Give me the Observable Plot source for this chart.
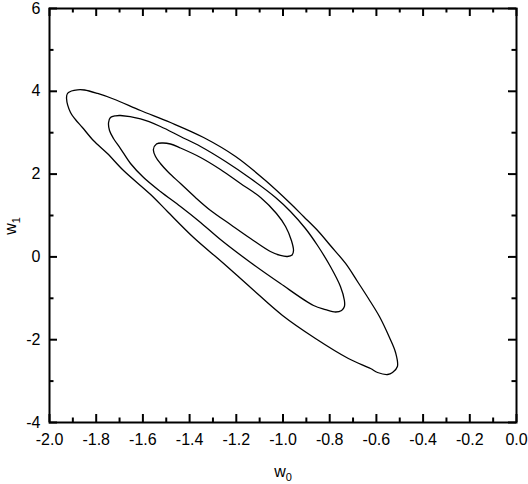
<!DOCTYPE html>
<html>
<head>
<meta charset="utf-8">
<script src="https://cdn.jsdelivr.net/npm/d3@7"></script>
<script src="https://cdn.jsdelivr.net/npm/@observablehq/plot@0.6"></script>
<style>
  html, body { margin: 0; padding: 0; background: #fff; }
</style>
</head>
<body>
<div id="chart"></div>
<script>
// Contour levels (outer, middle, inner)
const outerW0 = [-1.927,-1.923,-1.906,-1.880,-1.850,-1.794,-1.726,-1.610,-1.482,-1.340,-1.203,-1.075,-0.968,-0.912,-0.848,-0.797,-0.732,-0.681,-0.634,-0.587,-0.544,-0.518,-0.510,-0.531,-0.552,-0.595,-0.625,-0.720,-0.861,-1.002,-1.139,-1.259,-1.383,-1.495,-1.567,-1.683,-1.752,-1.812,-1.859,-1.889,-1.910];
const outerW1 = [3.826,3.947,4.007,4.036,4.031,3.947,3.814,3.536,3.246,2.884,2.425,1.845,1.290,0.976,0.614,0.275,-0.159,-0.594,-1.005,-1.440,-1.947,-2.309,-2.647,-2.792,-2.841,-2.792,-2.696,-2.454,-1.971,-1.415,-0.739,-0.135,0.469,1.097,1.507,2.087,2.498,2.812,3.126,3.319,3.488];

const middleW0 = [-1.747,-1.739,-1.717,-1.696,-1.610,-1.525,-1.439,-1.353,-1.246,-1.139,-1.032,-0.968,-0.904,-0.852,-0.797,-0.754,-0.737,-0.737,-0.749,-0.775,-0.818,-0.869,-1.011,-1.139,-1.268,-1.353,-1.439,-1.525,-1.597,-1.653,-1.696,-1.726,-1.743];
const middleW1 = [3.246,3.367,3.408,3.415,3.331,3.150,2.908,2.667,2.304,1.894,1.435,1.097,0.686,0.275,-0.232,-0.715,-1.053,-1.198,-1.295,-1.331,-1.271,-1.174,-0.643,-0.135,0.420,0.831,1.217,1.580,1.918,2.256,2.618,2.860,3.053];

const innerW0 = [-1.555,-1.542,-1.516,-1.482,-1.439,-1.353,-1.268,-1.182,-1.096,-1.028,-0.989,-0.964,-0.955,-0.961,-0.981,-1.011,-1.054,-1.139,-1.225,-1.310,-1.375,-1.439,-1.490,-1.525,-1.546];
const innerW1 = [2.594,2.727,2.751,2.727,2.630,2.401,2.111,1.773,1.435,1.048,0.734,0.396,0.155,0.046,0.010,0.034,0.130,0.444,0.783,1.121,1.435,1.773,2.039,2.256,2.425];

// Axis ticks
const xMajor = [-2.0,-1.8,-1.6,-1.4,-1.2,-1.0,-0.8,-0.6,-0.4,-0.2,0.0];
const xMinor = [-1.9,-1.7,-1.5,-1.3,-1.1,-0.9,-0.7,-0.5,-0.3,-0.1];
const yMajor = [-4,-2,0,2,4,6];
const yMinor = [-3,-1,1,3,5];

const levels = [
  {name: "outer", w0: outerW0, w1: outerW1},
  {name: "middle", w0: middleW0, w1: middleW1},
  {name: "inner", w0: innerW0, w1: innerW1}
];
const rows = levels.flatMap(l => l.w0.map((x, i) => ({level: l.name, w0: x, w1: l.w1[i]})));

const W = 528, H = 484;
const mL = 49, mR = 12, mT = 8, mB = 62;
const innerW = W - mL - mR, innerH = H - mT - mB;
const major = 8, minor = 4.5;

const plot = Plot.plot({
  width: W, height: H,
  marginLeft: mL, marginRight: mR, marginTop: mT, marginBottom: mB,
  style: {fontFamily: "'Liberation Sans', Arial, sans-serif", fontSize: "16px", color: "#000", background: "#fff"},
  x: {domain: [-2, 0]},
  y: {domain: [-4, 6]},
  marks: [
    Plot.line(rows, {x: "w0", y: "w1", z: "level", curve: "catmull-rom-closed", stroke: "#000", strokeWidth: 1.3}),
    // ticks inward on all four sides
    Plot.ruleX(xMajor, {x: d => d, insetTop: innerH - major, stroke: "#000", strokeWidth: 2}),
    Plot.ruleX(xMinor, {x: d => d, insetTop: innerH - minor, stroke: "#000", strokeWidth: 2}),
    Plot.ruleX(xMajor, {x: d => d, insetBottom: innerH - major, stroke: "#000", strokeWidth: 2}),
    Plot.ruleX(xMinor, {x: d => d, insetBottom: innerH - minor, stroke: "#000", strokeWidth: 2}),
    Plot.ruleY(yMajor, {y: d => d, insetRight: innerW - major, stroke: "#000", strokeWidth: 2}),
    Plot.ruleY(yMinor, {y: d => d, insetRight: innerW - minor, stroke: "#000", strokeWidth: 2}),
    Plot.ruleY(yMajor, {y: d => d, insetLeft: innerW - major, stroke: "#000", strokeWidth: 2}),
    Plot.ruleY(yMinor, {y: d => d, insetLeft: innerW - minor, stroke: "#000", strokeWidth: 2}),
    Plot.frame({stroke: "#000", strokeWidth: 2}),
    Plot.axisX({ticks: xMajor, tickSize: 0, tickPadding: 11, tickFormat: d => d.toFixed(1), label: null, fontSize: 16}),
    Plot.axisY({ticks: yMajor, tickSize: 0, tickPadding: 9, tickFormat: d => String(d), label: null, fontSize: 16})
  ]
});

const svg = d3.select(plot);
const tx = svg.append("text")
  .attr("x", 283).attr("y", 477)
  .attr("text-anchor", "middle")
  .attr("font-family", "'Liberation Sans', Arial, sans-serif")
  .attr("font-size", 16).attr("fill", "#000");
tx.append("tspan").text("w");
tx.append("tspan").attr("font-size", 11).attr("dy", 4).text("0");

const ty = svg.append("text")
  .attr("transform", "translate(16,226) rotate(-90)")
  .attr("text-anchor", "middle")
  .attr("font-family", "'Liberation Sans', Arial, sans-serif")
  .attr("font-size", 16).attr("fill", "#000");
ty.append("tspan").text("w");
ty.append("tspan").attr("font-size", 11).attr("dy", 4).text("1");

document.getElementById("chart").appendChild(plot);
</script>
</body>
</html>
